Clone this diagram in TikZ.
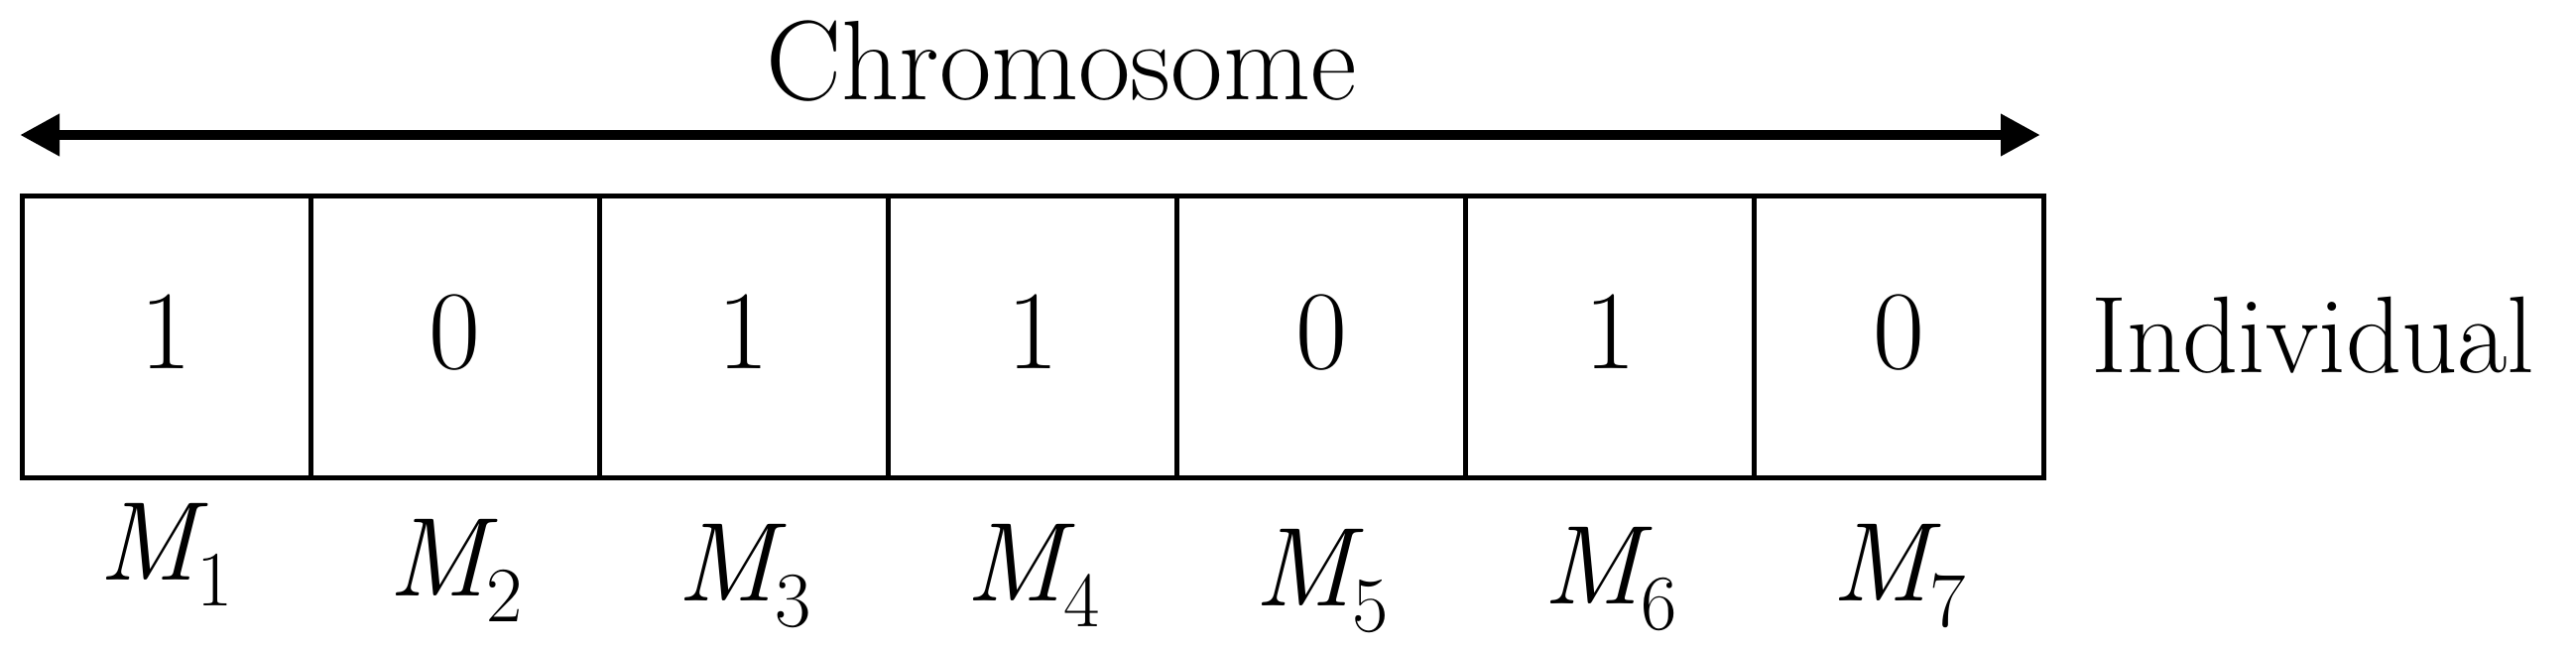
\documentclass[tikz,border=0pt]{standalone}
\usepackage{fontspec}
\setmainfont{Latin Modern Roman}
\newfontfamily\lmr{Latin Modern Roman}
\usetikzlibrary{arrows.meta}
\newcommand{\msub}[1]{{\lmr\itshape M\upshape\raisebox{-26pt}{\fontsize{79}{90}\selectfont #1}}}
\begin{document}
\begin{tikzpicture}[x=1pt,y=-1pt,
  cellbox/.style={draw, line width=5pt, minimum width=291.14pt, minimum height=284pt,
    inner sep=0pt, outer sep=0pt, text height=73pt, text depth=9pt,
    font=\fontsize{113}{130}\selectfont\lmr},
  mlabel/.style={anchor=base, inner sep=0pt, font=\fontsize{113}{130}\selectfont},
  lbl/.style={inner sep=0pt},
  chromarrow/.style={{Triangle[length=40pt,width=40pt]}-{Triangle[length=40pt,width=40pt]}, line width=10pt}]
\useasboundingbox (0,0) rectangle (2597,657);
\foreach \i/\d/\b in {1/1/584, 2/0/600, 3/1/605, 4/1/605, 5/0/610, 6/1/608, 7/0/605} {
  \node[cellbox] (c\i) at ({22+291.14*(\i-0.5)},339) {\d};
  \node[mlabel] (m\i) at ({22+291.14*(\i-0.5)},\b) {\msub{\i}};
}
\coordinate (aL) at (20,136);
\coordinate (aR) at (2057,136);
\draw[chromarrow] (aL) -- (aR);
\node[lbl, anchor=base, font=\lmr\fontsize{114}{130}\selectfont] (chrom) at (1070,100) {Chromosome};
\node[lbl, anchor=base west, font=\lmr\fontsize{110}{130}\selectfont] (indiv) at (2108,375) {Individual};
\end{tikzpicture}
\end{document}
